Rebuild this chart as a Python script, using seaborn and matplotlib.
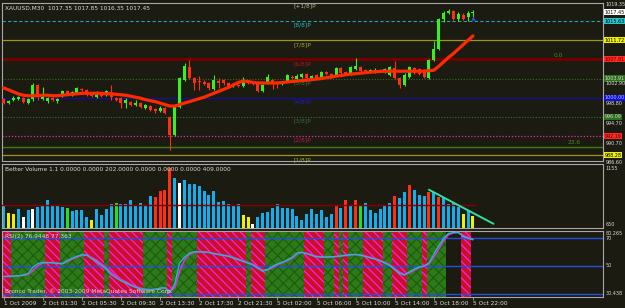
import numpy as np
import pandas as pd
import matplotlib
matplotlib.use("Agg")
import matplotlib.pyplot as plt
import seaborn as sns
from matplotlib import transforms

# ---------------- data ----------------
opens = [999.7, 998.9, 999.6, 999.7, 1000.0, 998.9, 999.7, 1002.6, 999.8, 999.3,
         1000.0, 999.3, 1000.3, 1001.4, 1000.6, 1000.9, 1001.7, 1001.6, 1000.9, 1000.1,
         1000.8, 1000.5, 1000.9, 999.9, 999.9, 998.9, 999.2, 998.5, 999.0, 997.8,
         998.4, 997.6, 997.3, 998.0, 996.0, 992.4, 998.2, 1003.6, 1006.3, 1004.0,
         1003.2, 1003.3, 1002.9, 1001.7, 1003.4, 1003.6, 1002.9, 1002.3, 1002.6, 1002.4,
         1003.3, 1003.0, 1002.9, 1001.4, 1002.9, 1003.6, 1003.0, 1002.9, 1003.3, 1004.3,
         1003.9, 1004.2, 1004.8, 1004.0, 1004.6, 1004.1, 1005.2, 1004.8, 1004.6, 1006.0,
         1005.2, 1004.8, 1005.8, 1006.2, 1005.5, 1005.4, 1005.2, 1005.6, 1005.3, 1004.6,
         1006.0, 1004.0, 1002.6, 1004.3, 1006.1, 1005.9, 1005.6, 1004.0, 1007.7, 1009.9,
         1016.0, 1017.3, 1017.7, 1016.0, 1016.9, 1016.4, 1017.35]
highs = [1000.0, 999.6, 1000.3, 1000.4, 1000.2, 1000.0, 1002.9, 1002.8, 1002.1, 1000.2,
         1000.2, 999.9, 1001.6, 1001.6, 1001.3, 1002.1, 1001.9, 1001.8, 1001.1, 1001.4,
         1001.0, 1001.5, 1002.6, 1000.1, 1000.1, 999.9, 999.4, 999.5, 999.2, 998.7,
         998.6, 997.9, 998.4, 998.2, 996.2, 998.4, 1004.3, 1007.0, 1007.7, 1004.3,
         1004.4, 1003.6, 1003.1, 1004.6, 1004.0, 1003.9, 1003.1, 1002.9, 1002.8, 1004.3,
         1003.5, 1003.2, 1003.1, 1002.8, 1004.8, 1003.8, 1003.4, 1003.5, 1004.8, 1004.6,
         1004.9, 1005.0, 1005.0, 1004.7, 1004.8, 1005.5, 1005.4, 1005.0, 1006.3, 1006.2,
         1005.4, 1006.4, 1008.0, 1006.4, 1005.8, 1005.9, 1006.0, 1005.9, 1006.0, 1006.4,
         1007.5, 1004.2, 1005.0, 1006.4, 1006.3, 1006.1, 1005.8, 1007.9, 1011.6, 1016.2,
         1017.6, 1018.0, 1017.9, 1017.4, 1017.2, 1017.6, 1017.85]
lows = [998.7, 998.7, 999.4, 999.5, 998.9, 998.8, 999.4, 999.6, 999.6, 999.0,
        999.3, 999.0, 1000.1, 1000.6, 1000.4, 1000.7, 1001.3, 1000.3, 1000.1, 999.9,
        1000.1, 1000.3, 999.6, 999.3, 997.9, 997.9, 998.3, 998.3, 998.0, 997.6,
        997.3, 996.9, 997.1, 996.7, 989.3, 992.2, 997.8, 1003.4, 1003.8, 1001.5,
        1001.5, 1002.5, 1001.6, 1001.5, 1002.0, 1002.6, 1002.0, 1002.1, 1002.2, 1002.2,
        1002.8, 1002.6, 1001.2, 1001.2, 1002.7, 1001.8, 1002.0, 1002.6, 1003.1, 1003.8,
        1003.7, 1004.0, 1003.6, 1003.8, 1003.8, 1003.9, 1004.6, 1004.0, 1004.4, 1004.8,
        1004.7, 1004.6, 1005.6, 1005.2, 1005.1, 1005.2, 1005.0, 1005.2, 1005.0, 1004.4,
        1003.8, 1002.0, 1002.4, 1004.1, 1004.8, 1004.6, 1004.0, 1003.8, 1007.5, 1009.7,
        1015.4, 1017.0, 1015.8, 1015.6, 1015.8, 1015.6, 1016.35]
closes = [998.9, 999.4, 1000.0, 1000.2, 999.1, 999.8, 1002.6, 1000.2, 1000.2, 999.9,
          999.5, 999.7, 1001.4, 1000.8, 1001.1, 1001.9, 1001.5, 1000.5, 1000.3, 1000.6,
          1000.3, 1001.3, 1000.2, 999.5, 999.0, 999.5, 998.5, 999.0, 998.2, 998.5,
          997.5, 997.3, 998.0, 996.9, 992.4, 998.2, 1004.0, 1006.5, 1004.0, 1003.0,
          1003.1, 1002.8, 1001.9, 1003.6, 1003.0, 1002.9, 1002.3, 1002.6, 1002.4, 1003.3,
          1003.0, 1002.9, 1001.4, 1002.6, 1004.2, 1002.9, 1002.8, 1003.2, 1004.6, 1004.0,
          1004.5, 1004.8, 1004.0, 1004.4, 1004.0, 1005.3, 1004.8, 1004.2, 1006.1, 1005.0,
          1004.9, 1006.2, 1006.4, 1005.4, 1005.4, 1005.6, 1005.7, 1005.4, 1005.8, 1006.2,
          1004.0, 1002.6, 1004.6, 1006.2, 1005.0, 1004.9, 1004.2, 1007.7, 1009.9, 1016.0,
          1017.3, 1017.6, 1016.0, 1017.0, 1016.0, 1017.3, 1017.45]
ma_line = [1002.0, 1001.6, 1001.2, 1000.8, 1000.5, 1000.4, 1000.4, 1000.4, 1000.5, 1000.5,
           1000.4, 1000.4, 1000.5, 1000.6, 1000.7, 1000.8, 1000.9, 1000.9, 1000.9, 1000.9,
           1000.9, 1000.8, 1000.8, 1000.7, 1000.6, 1000.5, 1000.3, 1000.1, 999.9, 999.6,
           999.4, 999.2, 998.9, 998.6, 998.3, 998.3, 998.6, 998.9, 999.2, 999.5,
           999.8, 1000.1, 1000.5, 1000.9, 1001.3, 1001.7, 1002.1, 1002.6, 1003.1, 1003.4,
           1003.3, 1003.1, 1003.0, 1003.0, 1003.0, 1003.0, 1003.0, 1003.1, 1003.2, 1003.3,
           1003.4, 1003.5, 1003.6, 1003.7, 1003.8, 1003.9, 1004.1, 1004.2, 1004.4, 1004.5,
           1004.7, 1004.8, 1004.9, 1005.0, 1005.1, 1005.2, 1005.3, 1005.35, 1005.4, 1005.4,
           1005.4, 1005.4, 1005.4, 1005.4, 1005.4, 1005.4, 1005.4, 1005.5, 1005.6, 1006.4,
           1007.3, 1008.2, 1009.0, 1009.9, 1010.8, 1011.7, 1012.6]
volume = [403, 262, 251, 329, 188, 311, 329, 371, 403, 494,
          384, 403, 371, 353, 298, 311, 324, 188, 128, 329,
          220, 329, 421, 452, 421, 421, 494, 390, 445, 403,
          573, 554, 659, 677, 1085, 902, 811, 873, 800, 800,
          756, 659, 598, 664, 463, 481, 421, 403, 434, 220,
          188, 55, 188, 262, 280, 361, 434, 361, 361, 329,
          201, 128, 238, 342, 251, 324, 188, 251, 390, 361,
          507, 403, 507, 403, 445, 324, 262, 342, 390, 445,
          567, 536, 646, 769, 690, 586, 567, 646, 646, 554,
          554, 434, 445, 371, 251, 311, 202]
vol_color = ["b", "y", "y", "b", "w", "b", "w", "b", "b", "b",
             "b", "b", "b", "g", "b", "b", "b", "b", "y", "b",
             "b", "b", "b", "g", "b", "b", "b", "b", "b", "b",
             "b", "r", "r", "r", "r", "b", "w", "b", "b", "b",
             "b", "b", "b", "b", "b", "b", "b", "b", "b", "y",
             "y", "w", "b", "b", "b", "b", "b", "b", "b", "b",
             "b", "b", "b", "b", "b", "b", "b", "b", "r", "b",
             "r", "b", "r", "g", "b", "b", "b", "b", "b", "b",
             "r", "b", "b", "r", "b", "b", "b", "r", "b", "r",
             "b", "b", "b", "b", "y", "b", "y"]
vol_avg = 409
trend_x = [87.0, 100.2]
trend_v = [690, 68]
rsi_main = [42.1, 42.3, 42.5, 42.8, 43.2, 44.4, 49.0, 51.5, 52.3, 52.2,
            52.0, 51.6, 51.3, 53.6, 55.2, 56.7, 57.8, 57.5, 55.0, 53.0,
            50.1, 47.5, 43.6, 41.3, 39.1, 37.8, 35.8, 34.5, 33.3, 32.9,
            32.6, 33.2, 33.9, 34.3, 30.6, 37.0, 52.0, 56.0, 58.9, 60.0,
            59.9, 59.7, 59.4, 58.5, 57.8, 57.3, 56.6, 55.5, 54.2, 52.9,
            51.8, 50.5, 48.0, 46.0, 47.3, 49.5, 51.2, 52.5, 54.1, 55.8,
            59.0, 59.6, 58.5, 57.3, 56.3, 56.1, 56.1, 56.3, 56.6, 57.0,
            57.4, 57.8, 58.0, 57.4, 56.6, 55.5, 54.6, 53.4, 51.8, 50.0,
            47.2, 44.5, 43.2, 45.5, 47.5, 49.1, 49.8, 52.0, 58.3, 64.3,
            69.5, 73.1, 73.6, 73.7, 70.8, 69.5, 68.4]
rsi_signal = [42.4, 42.4, 42.5, 42.7, 43.0, 43.8, 46.5, 50.0, 51.8, 52.2,
              52.1, 51.8, 51.5, 52.9, 54.6, 56.1, 57.3, 57.6, 55.9, 53.9,
              51.2, 48.6, 45.0, 42.4, 40.1, 38.5, 36.6, 35.1, 33.9, 33.2,
              32.8, 33.0, 33.6, 34.1, 32.0, 34.3, 46.0, 54.0, 58.0, 59.6,
              59.9, 59.8, 59.5, 58.8, 58.1, 57.5, 56.9, 55.9, 54.7, 53.4,
              52.2, 51.0, 48.9, 46.8, 46.9, 48.7, 50.6, 52.0, 53.5, 55.2,
              58.2, 59.4, 58.8, 57.7, 56.7, 56.2, 56.1, 56.2, 56.5, 56.9,
              57.3, 57.7, 57.9, 57.6, 56.9, 55.9, 54.9, 53.8, 52.3, 50.6,
              48.0, 45.3, 43.6, 44.8, 46.9, 48.6, 49.6, 51.3, 56.2, 62.0,
              67.9, 72.1, 73.4, 73.7, 71.5, 70.0, 68.9]
rsi_band = ["r", "r", "g", "g", "g", "g", "g", "g", "g", "r",
            "r", "r", "g", "g", "g", "g", "g", "r", "r", "r",
            "r", "g", "r", "r", "r", "r", "r", "r", "r", "g",
            "g", "g", "g", "g", "r", "g", "g", "g", "g", "g",
            "r", "r", "r", "r", "r", "r", "r", "r", "r", "r",
            "g", "r", "r", "r", "g", "g", "g", "g", "g", "g",
            "g", "g", "r", "r", "r", "r", "g", "g", "r", "g",
            "r", "g", "g", "g", "r", "r", "r", "r", "g", "g",
            "r", "r", "r", "g", "g", "g", "r", "g", "g", "g",
            "g", "n", "n", "n", "r", "r", "n"]
signal_x = [96]
signal_y = [1016.3]

murrey_levels = [1019.53, 1015.63, 1011.72, 1007.81, 1003.91, 1000.00, 996.09, 992.19, 988.28]
murrey_names = ["[+1/8]P", "[8/8]P", "[7/8]P", "[6/8]P", "[5/8]P", "[4/8]P", "[3/8]P", "[2/8]P", "[1/8]P"]
fib_levels = [1007.81, 990.0]
fib_names = ["0.0", "23.6"]
price_ticks = [1002.90, 998.80, 994.70, 990.70]
time_ticks = [0, 8, 16, 24, 32, 40, 48, 56, 64, 72, 80, 88, 96]
time_labels = ["1 Oct 2009", "2 Oct 01:30", "2 Oct 05:30", "2 Oct 09:30", "2 Oct 13:30",
               "2 Oct 17:30", "2 Oct 21:30", "5 Oct 02:00", "5 Oct 06:00", "5 Oct 10:00",
               "5 Oct 14:00", "5 Oct 18:00", "5 Oct 22:00"]

# ---------------- style ----------------
sns.set_theme(style="dark")
plt.rcParams["font.family"] = ["DejaVu Sans"]
plt.rcParams["hatch.linewidth"] = 0.8

BG = "#1c1b12"
GRAY = "#a8a8a8"
TXT = "#d8d8d8"
UP = "#3cf01e"
DN = "#ff3010"
FS = 4.2
FSR = 3.5

W, H = 625, 308
fig = plt.figure(figsize=(W / 100, H / 100), dpi=100, facecolor=BG)

def axes_px(x0, y0, x1, y1):
    return fig.add_axes([x0 / W, 1 - y1 / H, (x1 - x0) / W, (y1 - y0) / H])

axp = axes_px(2, 3, 603, 161)
axv = axes_px(2, 164, 603, 227.5)
axr = axes_px(2, 230.5, 603, 297)

XL = (-0.33, 122.6)
for ax in (axp, axv, axr):
    ax.set_facecolor(BG)
    ax.set_xlim(*XL)
    ax.grid(False)
    for s in ax.spines.values():
        s.set_color(GRAY)
        s.set_linewidth(0.8)
    ax.tick_params(left=False, bottom=False, labelleft=False, labelbottom=False,
                   right=False, labelright=False)

idx = np.arange(len(closes))

# ---------------- price panel ----------------
axp.set_ylim(987.1, 1019.3)
lvl_style = {
    "[+1/8]P": ("#7a7a60", "-", 0.0),
    "[8/8]P": ("#1aa6b0", (0, (3, 2)), 0.8),
    "[7/8]P": ("#9a9a10", "-", 0.9),
    "[6/8]P": ("#7a0000", "-", 2.0),
    "[5/8]P": ("#2e6e1e", (0, (1, 1.5)), 0.8),
    "[4/8]P": ("#1010a0", "-", 0.9),
    "[3/8]P": ("#2e6e40", (0, (1, 1.5)), 0.8),
    "[2/8]P": ("#e030a0", (0, (1, 1.5)), 0.9),
    "[1/8]P": ("#9a9a10", "-", 0.9),
}
lbl_col = {
    "[+1/8]P": "#b0b090", "[8/8]P": "#20b8c0", "[7/8]P": "#a8a820", "[6/8]P": "#b01818",
    "[5/8]P": "#3a7a2a", "[4/8]P": "#2020c0", "[3/8]P": "#3a6a3a", "[2/8]P": "#b01850",
    "[1/8]P": "#a8a820",
}
for lv, nm in zip(murrey_levels, murrey_names):
    c, ls, lw = lvl_style[nm]
    if lw > 0:
        axp.axhline(lv, color=c, ls=ls, lw=lw, zorder=1)
    axp.text(59.2, lv - 0.35, nm, color=lbl_col[nm], fontsize=FS, va="top", ha="left", zorder=2)
axp.axhline(fib_levels[1], color="#3f7a10", lw=1.0, zorder=1)
axp.text(112.5, fib_levels[0] + 0.3, fib_names[0], color="#4a8a20", fontsize=FS, va="bottom")
axp.text(115.3, fib_levels[1] + 0.3, fib_names[1], color="#4a8a20", fontsize=FS, va="bottom")

# candles
o = np.array(opens); c = np.array(closes); h = np.array(highs); l = np.array(lows)
up = c >= o
cols = np.where(up, UP, DN)
axp.vlines(idx, l, h, colors=cols, lw=0.8, zorder=3)
body = np.where(np.abs(c - o) < 0.12, 0.12, c - o)
axp.bar(idx, body, bottom=o, width=0.62, color=cols, linewidth=0, zorder=4)

sns.lineplot(x=idx, y=ma_line, color="#ff2a00", lw=2.3, ax=axp, zorder=5)
axp.scatter(signal_x, signal_y, marker="^", s=9, color="#3050ff", zorder=6, linewidths=0)
axp.set_xlabel(""); axp.set_ylabel("")
axp.spines["top"].set_linestyle((0, (2, 1)))

axp.text(0.005, 0.985, "XAUUSD,M30  1017.35 1017.85 1016.35 1017.45", transform=axp.transAxes,
         color=TXT, fontsize=FS, va="top", ha="left")

tr = transforms.blended_transform_factory(axp.transAxes, axp.transData)
box_lbls = [
    (1017.45, "1017.45", "#ffffff", "#000000"),
    (1015.63, "1015.63", "#20c8d0", "#000000"),
    (1011.72, "1011.72", "#f0f000", "#000000"),
    (1007.81, "1007.81", "#ff2a20", "#600000"),
    (1003.91, "1003.91", "#2e6e1e", "#c8e0c0"),
    (1000.00, "1000.00", "#1010e0", "#c0c0ff"),
    (996.09, "996.09", "#2e6e1e", "#c8e0c0"),
    (992.19, "992.19", "#ff2a20", "#600000"),
    (988.28, "988.28", "#f0f000", "#000000"),
]
for v, t, fc, tc in box_lbls:
    axp.text(1.003, v, t, transform=tr, fontsize=FSR, color=tc, va="center", ha="left",
             clip_on=False, bbox=dict(boxstyle="square,pad=0.12", fc=fc, ec="none"))
for v in price_ticks:
    axp.text(1.004, v, f"{v:.2f}", transform=tr, fontsize=FSR, color=TXT, va="center",
             ha="left", clip_on=False)
axp.text(1.004, 1019.0, "1019.35", transform=tr, fontsize=FSR, color=TXT, va="center",
         ha="left", clip_on=False)
axp.text(1.004, 986.8, "986.60", transform=tr, fontsize=FSR, color=TXT, va="center",
         ha="left", clip_on=False)

# ---------------- volume panel ----------------
pal = {"b": "#12aef0", "y": "#f0f000", "w": "#ffffff", "g": "#20e020", "r": "#ff3010"}
vdf = pd.DataFrame({"i": idx, "v": volume, "col": vol_color})
sns.barplot(data=vdf, x="i", y="v", hue="col", palette=pal, native_scale=True,
            dodge=False, width=0.62, saturation=1, linewidth=0, errorbar=None,
            legend=False, ax=axv)
axv.set_xlim(*XL)
axv.set_ylim(0, 1160)
axv.plot([XL[0], 96.5], [vol_avg, vol_avg], color="#8a0000", lw=1.0, zorder=3)
sns.lineplot(x=trend_x, y=trend_v, color="#30e0a0", lw=1.4, ax=axv, zorder=4)
axv.set_xlabel(""); axv.set_ylabel("")
axv.tick_params(left=False, bottom=False, labelleft=False, labelbottom=False)
axv.text(0.005, 0.96, "Better Volume 1.1 0.0000 0.0000 202.0000 0.0000 0.0000 0.0000 409.0000",
         transform=axv.transAxes, color=TXT, fontsize=FS, va="top", ha="left")
trv = transforms.blended_transform_factory(axv.transAxes, axv.transData)
axv.text(1.004, 1080, "1155", transform=trv, fontsize=FSR, color=TXT, va="center", clip_on=False)
axv.text(1.004, 60, "650", transform=trv, fontsize=FSR, color=TXT, va="center", clip_on=False)

# ---------------- RSI panel ----------------
axr.set_ylim(27.6, 75.1)
band_style = {"r": dict(fc="#c81028", ec="#ff20ff", hatch="\\\\\\\\"),
              "g": dict(fc="#2c7a18", ec="#1e5a10", hatch="xxx")}
start = 0
for i in range(1, len(rsi_band) + 1):
    if i == len(rsi_band) or rsi_band[i] != rsi_band[start]:
        k = rsi_band[start]
        if k in band_style:
            st = band_style[k]
            axr.axvspan(start - 0.5, i - 0.5, facecolor=st["fc"], edgecolor=st["ec"],
                        hatch=st["hatch"], linewidth=0, zorder=1)
        start = i
for lv in (70, 50, 30):
    axr.axhline(lv, color="#2050e0", lw=1.0, zorder=2)
sns.lineplot(x=idx, y=rsi_signal, color="#e030e0", lw=1.2, ax=axr, zorder=3)
sns.lineplot(x=idx, y=rsi_main, color="#10c8c8", lw=0.9, ax=axr, zorder=4)
axr.set_xlabel(""); axr.set_ylabel("")
axr.text(0.005, 0.95, "RSI(2) 76.9448 77.363", transform=axr.transAxes, color=TXT,
         fontsize=FS, va="top", ha="left", zorder=6)
axr.text(0.005, 0.04, "Bronco Trader, \u00a9 2003-2009 MetaQuotes Software Corp.",
         transform=axr.transAxes, color=TXT, fontsize=FS, va="bottom", ha="left", zorder=6)
trr = transforms.blended_transform_factory(axr.transAxes, axr.transData)
axr.text(1.004, 74.6, "80.265", transform=trr, fontsize=FSR, color=TXT, va="top", clip_on=False)
axr.text(1.004, 69.5, "70", transform=trr, fontsize=FSR, color=TXT, va="center", clip_on=False)
axr.text(1.004, 50, "50", transform=trr, fontsize=FSR, color=TXT, va="center", clip_on=False)
axr.text(1.004, 30, "30.438", transform=trr, fontsize=FSR, color=TXT, va="center", clip_on=False)

axr.set_xticks(time_ticks)
axr.set_xticklabels(time_labels)
axr.tick_params(axis="x", bottom=True, labelbottom=True, length=2, width=0.6,
                color=GRAY, pad=1, labelsize=FS, labelcolor=TXT)
for t in axr.get_xticklabels():
    t.set_ha("left")

fig.savefig("out.png", dpi=100, facecolor=BG)
